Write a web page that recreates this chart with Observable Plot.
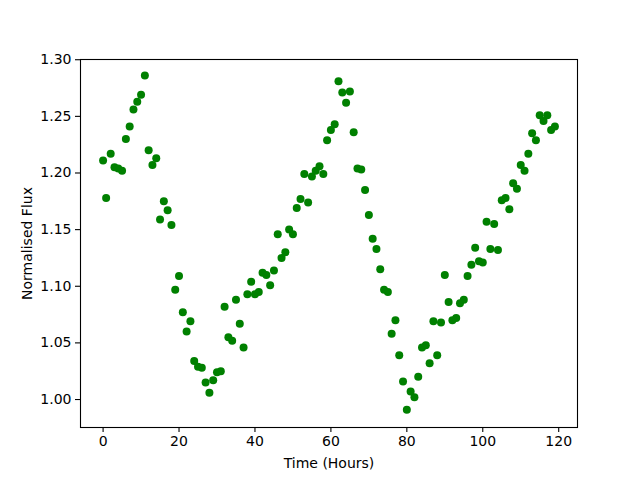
<!DOCTYPE html>
<html>
<head>
<meta charset="utf-8">
<script src="https://cdn.jsdelivr.net/npm/d3@7"></script>
<script src="https://cdn.jsdelivr.net/npm/@observablehq/plot@0.6"></script>
<style>
  html, body { margin: 0; padding: 0; background: white; }
</style>
</head>
<body>
<div id="chart"></div>
<script>
const timeHours = [
  0, 0.8, 2, 3, 4, 5, 6, 7, 8, 9, 10, 11, 12, 13, 14, 15, 16, 17, 18, 19,
  20, 21, 22, 23, 24, 25, 26, 27, 28, 29, 30, 31, 32, 33, 34, 35, 36, 37, 38, 39,
  40, 41, 42, 43, 44, 45, 46, 47, 48, 49, 50, 51, 52, 53, 54, 55, 56, 57, 58, 59,
  60, 61, 62, 63, 64, 65, 66, 67, 68, 69, 70, 71, 72, 73, 74, 75, 76, 77, 78, 79,
  80, 81, 82, 83, 84, 85, 86, 87, 88, 89, 90, 91, 92, 93, 94, 95, 96, 97, 98, 99,
  100, 101, 102, 103, 104, 105, 106, 107, 108, 109, 110, 111, 112, 113, 114, 115, 116, 117, 118, 119
];
const normalisedFlux = [
  1.211, 1.178, 1.217, 1.205, 1.204, 1.202, 1.230, 1.241, 1.256, 1.263,
  1.269, 1.286, 1.220, 1.207, 1.213, 1.159, 1.175, 1.167, 1.154, 1.097,
  1.109, 1.077, 1.060, 1.069, 1.034, 1.029, 1.028, 1.015, 1.006, 1.017,
  1.024, 1.025, 1.082, 1.055, 1.052, 1.088, 1.067, 1.046, 1.093, 1.104,
  1.093, 1.095, 1.112, 1.110, 1.101, 1.114, 1.146, 1.125, 1.130, 1.150,
  1.146, 1.169, 1.177, 1.199, 1.174, 1.197, 1.202, 1.206, 1.199, 1.229,
  1.238, 1.243, 1.281, 1.271, 1.262, 1.272, 1.236, 1.204, 1.203, 1.185,
  1.163, 1.142, 1.133, 1.115, 1.097, 1.095, 1.058, 1.070, 1.039, 1.016,
  0.991, 1.007, 1.002, 1.020, 1.046, 1.048, 1.032, 1.069, 1.039, 1.068,
  1.110, 1.086, 1.070, 1.072, 1.085, 1.088, 1.109, 1.119, 1.134, 1.122,
  1.121, 1.157, 1.133, 1.155, 1.132, 1.176, 1.178, 1.168, 1.191, 1.186,
  1.207, 1.202, 1.217, 1.235, 1.229, 1.251, 1.246, 1.251, 1.238, 1.241
];
const xTicks = [0, 20, 40, 60, 80, 100, 120];
const yTicks = [1.00, 1.05, 1.10, 1.15, 1.20, 1.25, 1.30];
const xLabel = "Time (Hours)";
const yLabel = "Normalised Flux";

const data = timeHours.map((t, i) => ({t, f: normalisedFlux[i]}));

const chart = Plot.plot({
  width: 640,
  height: 480,
  marginLeft: 80,
  marginRight: 63,
  marginTop: 59,
  marginBottom: 53,
  style: {fontFamily: "DejaVu Sans", fontSize: "14px", color: "black", background: "white"},
  x: {domain: [-5.95, 124.95]},
  y: {domain: [0.9753, 1.3002]},
  marks: [
    Plot.dot(data, {x: "t", y: "f", r: 4, fill: "#008000", stroke: null}),
    Plot.frame({stroke: "black", strokeWidth: 1.1}),
    Plot.axisX({ticks: xTicks, tickSize: 5, tickPadding: 4, label: null, strokeWidth: 1.1, fontSize: 14}),
    Plot.axisY({ticks: yTicks, tickSize: 5, tickPadding: 4, label: null, tickFormat: d => d.toFixed(2), strokeWidth: 1.1, fontSize: 14}),
    Plot.text([xLabel], {frameAnchor: "bottom", dy: 36, text: d => d, fontSize: 14, textAnchor: "middle", lineAnchor: "middle", fill: "black"}),
    Plot.text([yLabel], {frameAnchor: "left", dx: -53, text: d => d, fontSize: 14, rotate: -90, textAnchor: "middle", lineAnchor: "middle", fill: "black"})
  ]
});
document.getElementById("chart").appendChild(chart);
</script>
</body>
</html>
